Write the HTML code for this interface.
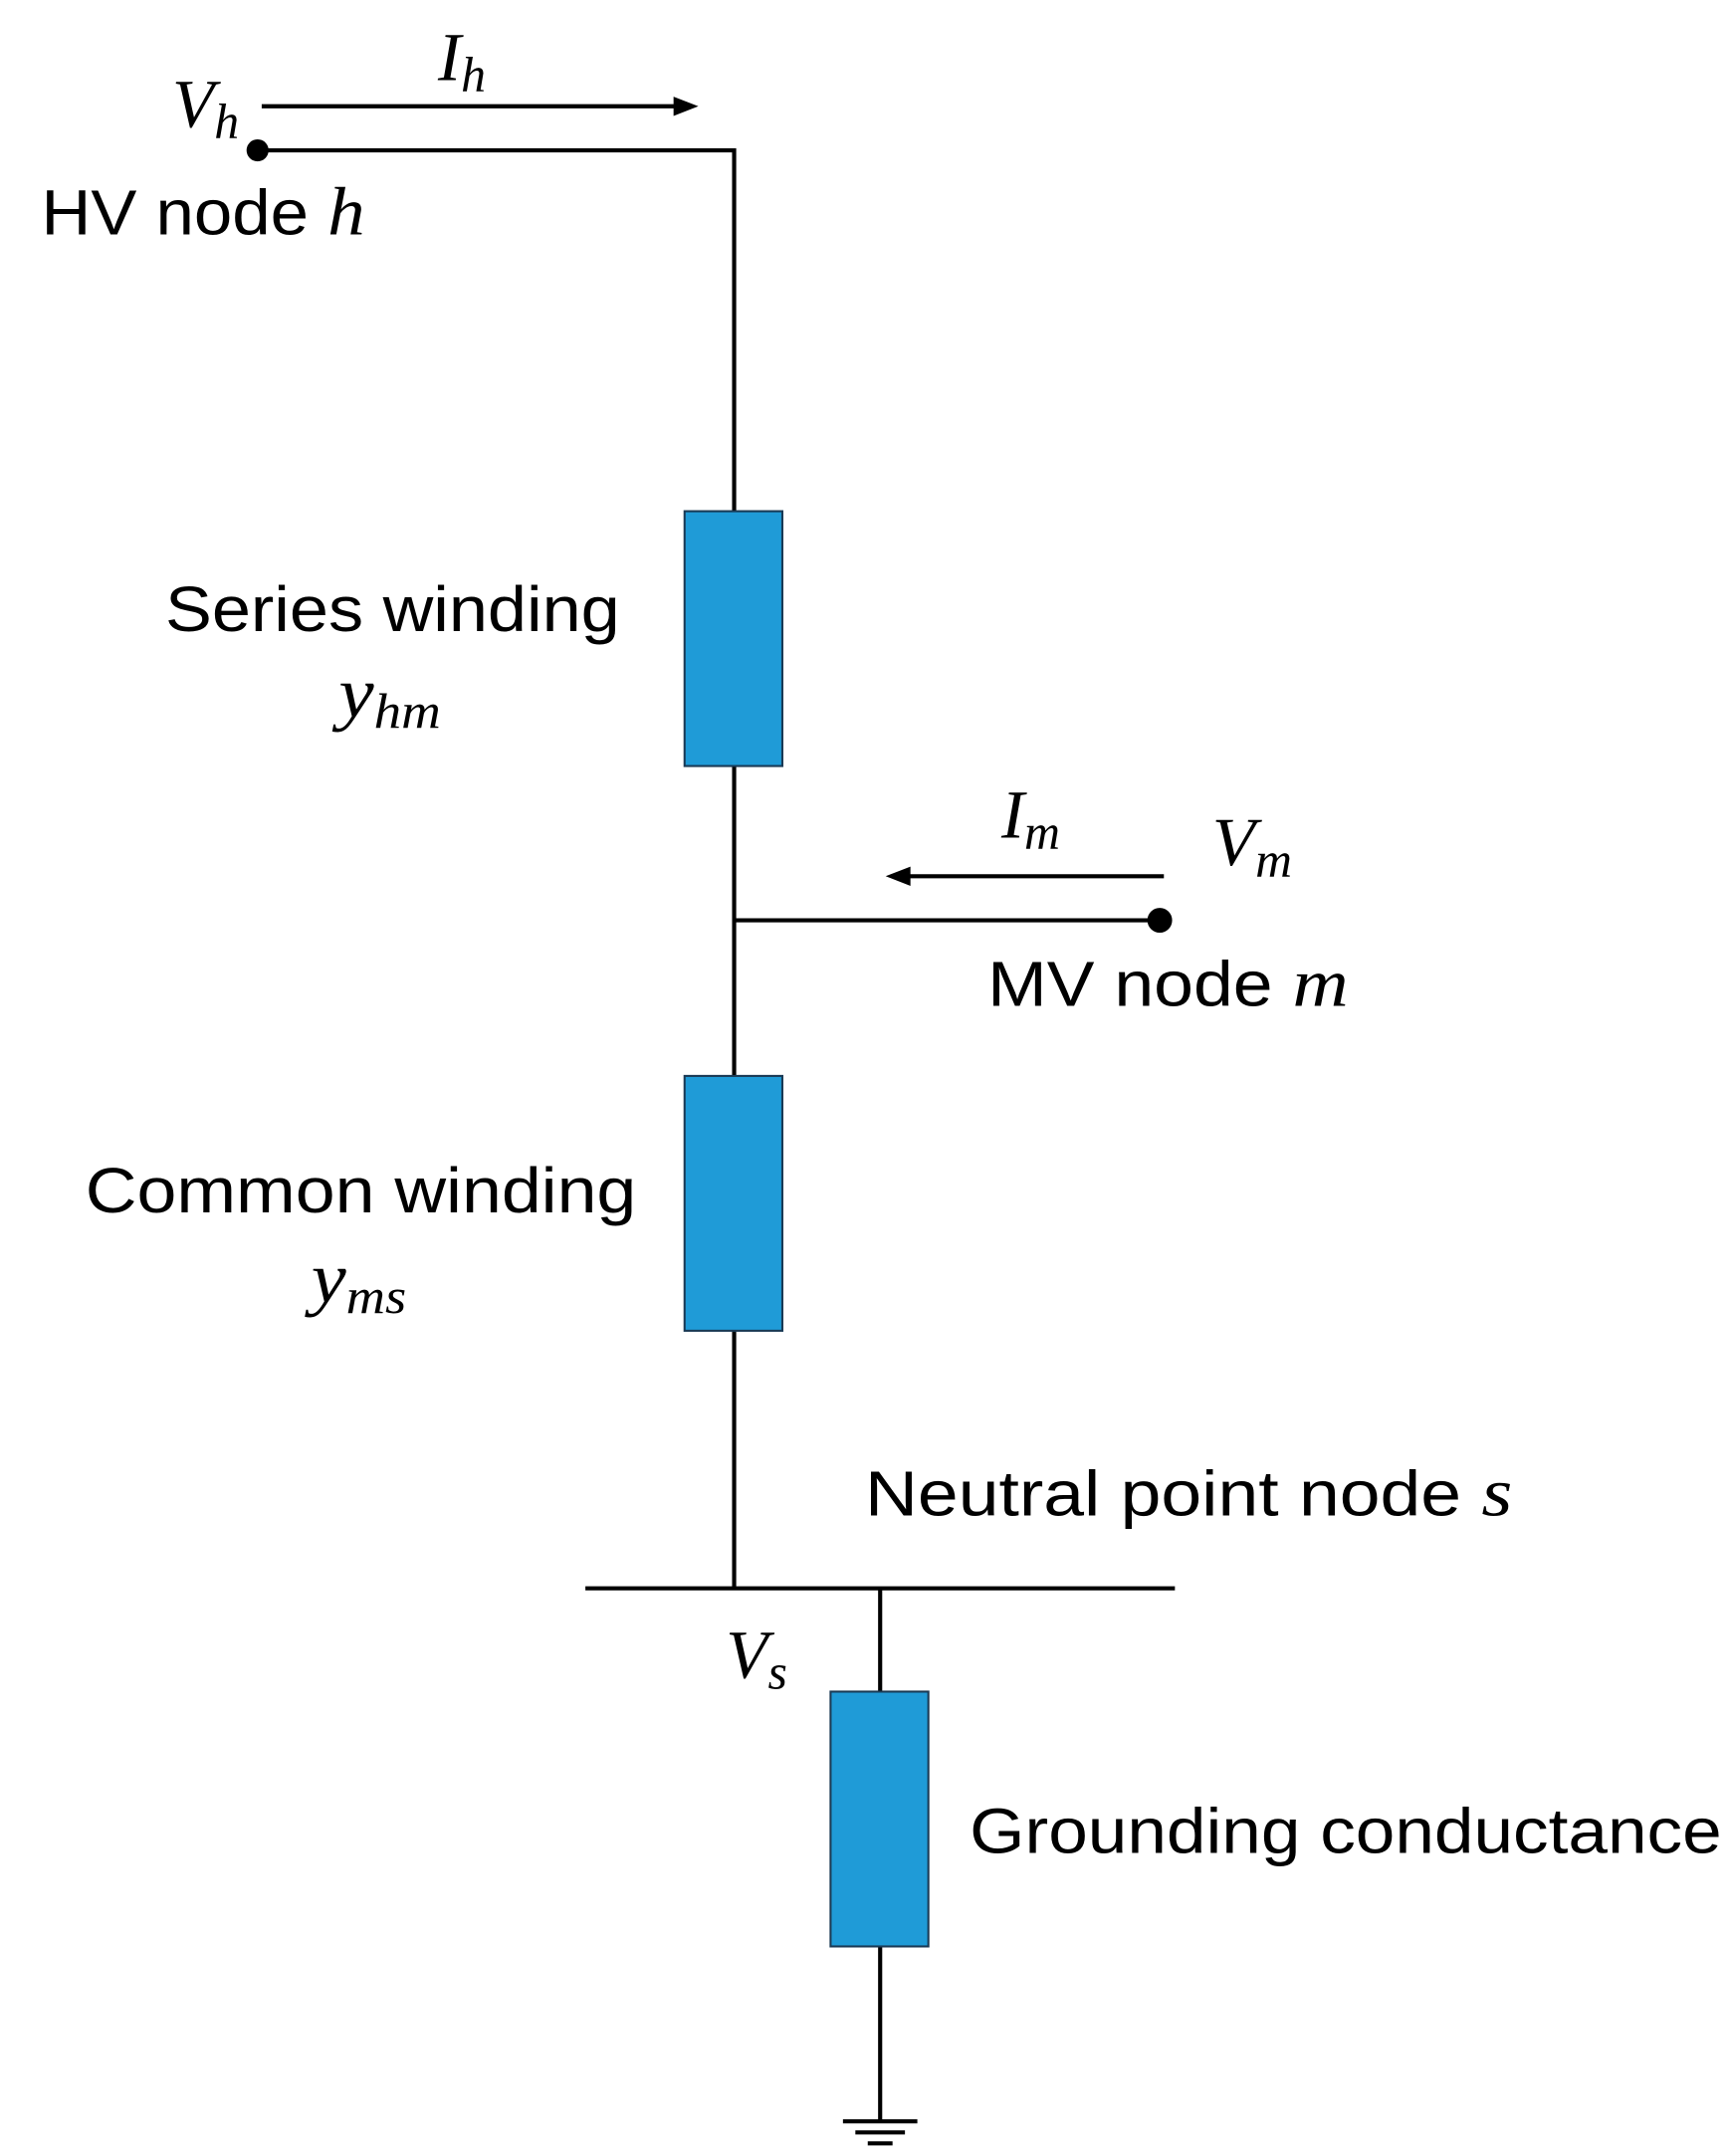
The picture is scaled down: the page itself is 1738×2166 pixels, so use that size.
<!DOCTYPE html>
<html><head><style>
html,body{margin:0;padding:0;background:#fff;}
svg{display:block;}
.t{font-family:"Liberation Sans",sans-serif;font-size:46px;fill:#000;}
.i{font-family:"Liberation Serif",serif;font-style:italic;fill:#000;}
</style></head><body>
<svg width="1738" height="2166" viewBox="0 0 1256 1565" xmlns="http://www.w3.org/2000/svg">
<g stroke="#000" stroke-width="3" fill="none">
<path d="M187,109 H533 V371"/>
<path d="M533,556 V781"/>
<path d="M533,668 H842"/>
<path d="M533,966 V1153"/>
<path d="M425,1153 H853"/>
<path d="M639,1153 V1228"/>
<path d="M639,1413 V1540"/>
<path d="M612,1540 H666 M621,1548 H657 M630,1556 H648"/>
</g>
<g stroke="#000" stroke-width="3">
<line x1="190" y1="77" x2="495" y2="77"/>
<line x1="845" y1="636" x2="655" y2="636"/>
</g>
<path d="M507,77 L489,70 L489,84z"/>
<path d="M643,636 L661,629 L661,643z"/>
<circle cx="187" cy="109" r="8"/>
<circle cx="842" cy="668" r="9"/>
<g fill="#1f9bd7" stroke="#1a3a55" stroke-width="1.5">
<rect x="497" y="371" width="71" height="185"/>
<rect x="497" y="781" width="71" height="185"/>
<rect x="603" y="1228" width="71" height="185"/>
</g>
<text class="i" x="125" y="92" font-size="50">V<tspan font-size="36" dy="8">h</tspan></text>
<text class="i" x="318" y="58" font-size="50">I<tspan font-size="36" dy="8">h</tspan></text>
<text class="t" x="30" y="170" textLength="235" lengthAdjust="spacingAndGlyphs">HV node <tspan class="i" font-size="50">h</tspan></text>
<text class="t" x="120" y="458" textLength="330" lengthAdjust="spacingAndGlyphs">Series winding</text>
<text class="i" x="246" y="520" font-size="52" textLength="74" lengthAdjust="spacingAndGlyphs">y<tspan font-size="36" dy="8">hm</tspan></text>
<text class="i" x="727" y="608" font-size="50">I<tspan font-size="36" dy="8">m</tspan></text>
<text class="i" x="880" y="628" font-size="50" textLength="58" lengthAdjust="spacingAndGlyphs">V<tspan font-size="36" dy="8">m</tspan></text>
<text class="t" x="717" y="730" textLength="262" lengthAdjust="spacingAndGlyphs">MV node <tspan class="i" font-size="50">m</tspan></text>
<text class="t" x="62" y="880" textLength="400" lengthAdjust="spacingAndGlyphs">Common winding</text>
<text class="i" x="226" y="945" font-size="52" textLength="69" lengthAdjust="spacingAndGlyphs">y<tspan font-size="36" dy="8">ms</tspan></text>
<text class="t" x="628" y="1100" textLength="470" lengthAdjust="spacingAndGlyphs">Neutral point node <tspan class="i" font-size="50">s</tspan></text>
<text class="i" x="527" y="1218" font-size="50">V<tspan font-size="36" dy="8">s</tspan></text>
<text class="t" x="704" y="1345" textLength="546" lengthAdjust="spacingAndGlyphs">Grounding conductance</text>
</svg>
</body></html>
